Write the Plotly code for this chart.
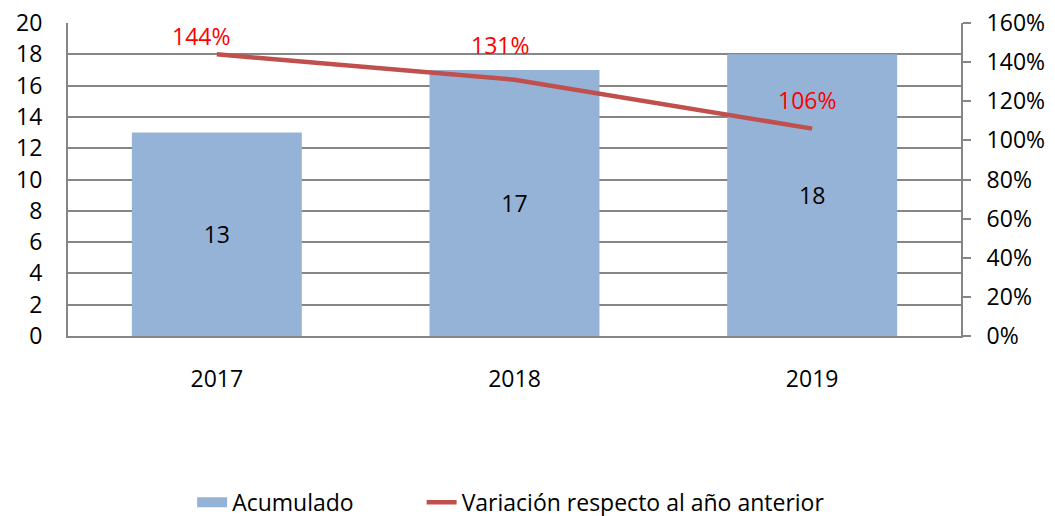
import plotly.graph_objects as go

years = ["2017", "2018", "2019"]
acumulado = [13, 17, 18]
variacion = [1.44, 1.31, 1.06]
variacion_labels = ["144%", "131%", "106%"]
left_ticks = [0, 2, 4, 6, 8, 10, 12, 14, 16, 18, 20]
right_ticks = [0, 0.2, 0.4, 0.6, 0.8, 1.0, 1.2, 1.4, 1.6]
right_tick_labels = ["0%", "20%", "40%", "60%", "80%", "100%", "120%", "140%", "160%"]

# label offsets (pixels) for the percentage labels above the line
label_xshift = [-16, -15, -5]
label_yshift = [18, 35, 29]

FONT = "Open Sans"
GRID = "#868686"
BAR_COLOR = "#95B3D7"
LINE_COLOR = "#C0504D"

# the page body adds an 8px offset, so the figure is 8px smaller than the window
fig = go.Figure()
fig.add_trace(go.Bar(
    x=years, y=acumulado, name="Acumulado", showlegend=False,
    marker=dict(color=BAR_COLOR, line=dict(width=0)),
    text=[str(v) for v in acumulado], textposition="inside",
    insidetextanchor="middle",
    textfont=dict(family=FONT, size=23, color="#000000"),
    width=0.571,
))
# legend proxy giving a wide rectangle swatch for the bars
fig.add_trace(go.Scatter(
    x=[None], y=[None], name="Acumulado", mode="lines",
    line=dict(color=BAR_COLOR, width=12), legend="legend",
))
fig.add_trace(go.Scatter(
    x=years, y=variacion, name="Variación respecto al año anterior",
    mode="lines", yaxis="y2", legend="legend2",
    line=dict(color=LINE_COLOR, width=4.5),
))

for i, (v, lbl, dx, dy) in enumerate(zip(variacion, variacion_labels, label_xshift, label_yshift)):
    fig.add_annotation(x=i, y=v, xref="x", yref="y2", text=lbl, showarrow=False,
                       xshift=dx, yshift=dy,
                       font=dict(family=FONT, size=23, color="#FF0000"))

legend_style = dict(orientation="h", xanchor="left", yref="container", y=0.027,
                    yanchor="middle", font=dict(family=FONT, size=23),
                    borderwidth=0, bgcolor="rgba(0,0,0,0)")

fig.update_layout(
    width=1047, height=508,
    margin=dict(l=60, r=94, t=15, b=180),
    paper_bgcolor="white", plot_bgcolor="white",
    font=dict(family=FONT, size=23, color="#000000"),
    showlegend=True,
    legend=dict(x=0.139, **legend_style),
    legend2=dict(x=0.396, **legend_style),
    xaxis=dict(type="category", range=[-0.5, 2.5], showgrid=False, showline=True,
               linecolor=GRID, linewidth=2,
               ticks="", tickfont=dict(family=FONT, size=23),
               ticklabelstandoff=21, automargin=False),
    yaxis=dict(range=[0, 20], tickvals=left_ticks, showgrid=True, gridcolor=GRID,
               gridwidth=1.5, showline=True, linecolor=GRID, linewidth=2,
               ticks="", ticklabelstandoff=19, zeroline=False, automargin=False,
               ticklabeloverflow="allow", tickfont=dict(family=FONT, size=23)),
    yaxis2=dict(range=[0, 1.6], tickvals=right_ticks, ticktext=right_tick_labels,
                overlaying="y", side="right", showgrid=False, showline=True,
                linecolor=GRID, linewidth=2, ticks="outside", ticklen=8,
                tickcolor=GRID, tickwidth=1.5, zeroline=False, automargin=False,
                ticklabeloverflow="allow", ticklabelstandoff=11,
                tickfont=dict(family=FONT, size=23)),
)

fig.write_html("out.html")
